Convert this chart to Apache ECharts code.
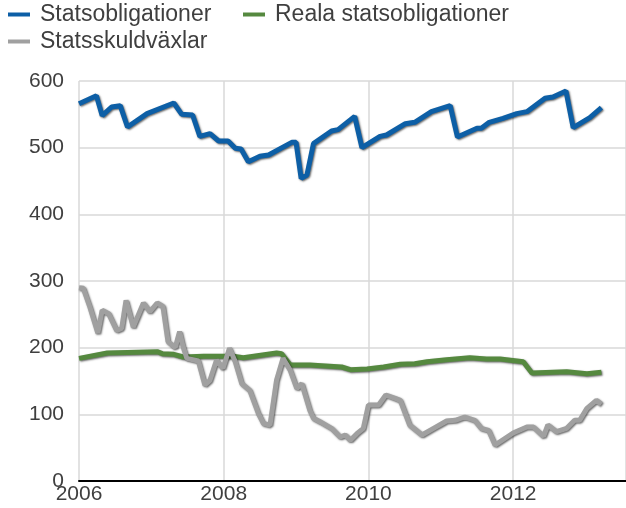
<!DOCTYPE html>
<html>
<head>
<meta charset="utf-8">
<script src="https://cdn.jsdelivr.net/npm/echarts@6/dist/echarts.min.js"></script>
<style>
html,body{margin:0;padding:0;background:#fff;}
#c{width:626px;height:508px;}
</style>
</head>
<body>
<div id="c"></div>
<script>
var seriesNames = ['Statsobligationer', 'Reala statsobligationer', 'Statsskuldväxlar'];
var yTicks = [0, 100, 200, 300, 400, 500, 600];
var xTicks = [2006, 2008, 2010, 2012];

var statsobligationer = [
  [2006.00,566],[2006.24,578],[2006.32,548],[2006.45,561],[2006.57,563],[2006.67,531],
  [2006.94,551],[2007.31,567],[2007.42,550],[2007.57,549],[2007.67,517],[2007.81,521],
  [2007.93,510],[2008.06,510],[2008.16,499],[2008.24,498],[2008.34,479],[2008.50,487],
  [2008.62,489],[2008.94,508],[2009.00,508],[2009.07,454],[2009.15,459],[2009.24,506],
  [2009.49,525],[2009.58,527],[2009.81,547],[2009.91,500],[2010.16,517],[2010.25,519],
  [2010.51,536],[2010.64,538],[2010.87,554],[2011.13,563],[2011.23,516],[2011.50,529],
  [2011.56,529],[2011.67,538],[2011.86,544],[2012.05,551],[2012.19,554],[2012.44,574],
  [2012.55,576],[2012.73,585],[2012.83,530],[2013.06,545],[2013.22,560]
];
var realaStatsobligationer = [
  [2006.00,184],[2006.39,192],[2007.08,194],[2007.15,191],[2007.31,190],[2007.44,186],
  [2007.72,187],[2008.13,187],[2008.27,185],[2008.73,192],[2008.80,191],[2008.92,174],
  [2009.19,174],[2009.63,171],[2009.75,167],[2009.98,168],[2010.21,171],[2010.44,175],
  [2010.64,176],[2010.81,179],[2011.08,182],[2011.40,185],[2011.63,183],[2011.82,183],
  [2012.14,179],[2012.26,162],[2012.74,164],[2013.02,161],[2013.22,163]
];
var statsskuldvaxlar = [
  [2006.00,290],[2006.06,289],[2006.15,261],[2006.26,222],[2006.32,256],[2006.41,251],
  [2006.52,226],[2006.59,229],[2006.65,271],[2006.75,231],[2006.89,267],[2006.98,254],
  [2007.08,267],[2007.16,262],[2007.23,209],[2007.33,200],[2007.39,224],[2007.44,201],
  [2007.49,184],[2007.65,180],[2007.74,144],[2007.81,151],[2007.90,181],[2007.99,169],
  [2008.08,199],[2008.16,179],[2008.25,146],[2008.36,136],[2008.48,101],[2008.55,86],
  [2008.64,84],[2008.73,151],[2008.82,184],[2008.92,166],[2009.01,139],[2009.08,146],
  [2009.19,106],[2009.24,94],[2009.33,89],[2009.49,79],[2009.61,66],[2009.68,69],
  [2009.75,61],[2009.84,71],[2009.93,79],[2010.00,114],[2010.14,114],[2010.24,129],
  [2010.37,124],[2010.44,121],[2010.57,84],[2010.74,69],[2010.90,79],[2011.08,90],
  [2011.20,91],[2011.33,96],[2011.47,91],[2011.56,79],[2011.66,76],[2011.75,54],
  [2012.00,72],[2012.19,81],[2012.28,81],[2012.42,67],[2012.48,84],[2012.60,74],
  [2012.74,79],[2012.85,91],[2012.92,91],[2013.02,109],[2013.15,121],[2013.22,115]
];

var colors = ['#0d5fa6', '#55893f', '#a0a0a0'];
var txt = '#3f3f3f';
var font = 'Liberation Sans, Arial, sans-serif';

function lineSeries(name, data, color) {
  return {
    name: name, type: 'line', data: data, showSymbol: false, symbol: 'none',
    lineStyle: {color: color, width: 5, shadowColor: 'rgba(0,0,0,0.6)', shadowBlur: 2, shadowOffsetX: 1, shadowOffsetY: 1},
    itemStyle: {color: color},
    emphasis: {disabled: true}, animation: false
  };
}

function legendAt(name, left, top) {
  return {
    data: [name], left: left, top: top, padding: 0, icon: 'rect', itemWidth: 22, itemHeight: 4,
    textStyle: {color: txt, fontSize: 23, fontFamily: font, padding: [0, 0, 0, 5]},
    selectedMode: false
  };
}

var chart = echarts.init(document.getElementById('c'), null, {renderer: 'canvas'});
chart.setOption({
  animation: false,
  textStyle: {fontFamily: font},
  legend: [
    legendAt(seriesNames[0], 8, 3),
    legendAt(seriesNames[1], 243, 3),
    legendAt(seriesNames[2], 8, 30)
  ],
  grid: {left: 79, right: 0, top: 81, bottom: 27, containLabel: false},
  xAxis: {
    type: 'value', min: 2006, max: 2013.56, interval: 2,
    axisLine: {show: true, onZero: false, lineStyle: {color: '#000', width: 2}},
    axisTick: {show: false},
    splitLine: {show: true, lineStyle: {color: '#d9d9d9', width: 1.5}},
    axisLabel: {color: txt, fontSize: 21, fontFamily: font, margin: 3, showMaxLabel: false,
      formatter: function (v) { return xTicks.indexOf(v) >= 0 ? String(v) : ''; }}
  },
  yAxis: {
    type: 'value', min: yTicks[0], max: yTicks[yTicks.length - 1], interval: 100,
    axisLine: {show: false}, axisTick: {show: false},
    splitLine: {show: true, lineStyle: {color: '#d9d9d9', width: 1.5}},
    axisLabel: {color: txt, fontSize: 21, fontFamily: font, margin: 15}
  },
  series: [
    lineSeries(seriesNames[0], statsobligationer, colors[0]),
    lineSeries(seriesNames[1], realaStatsobligationer, colors[1]),
    lineSeries(seriesNames[2], statsskuldvaxlar, colors[2])
  ]
});
</script>
</body>
</html>
